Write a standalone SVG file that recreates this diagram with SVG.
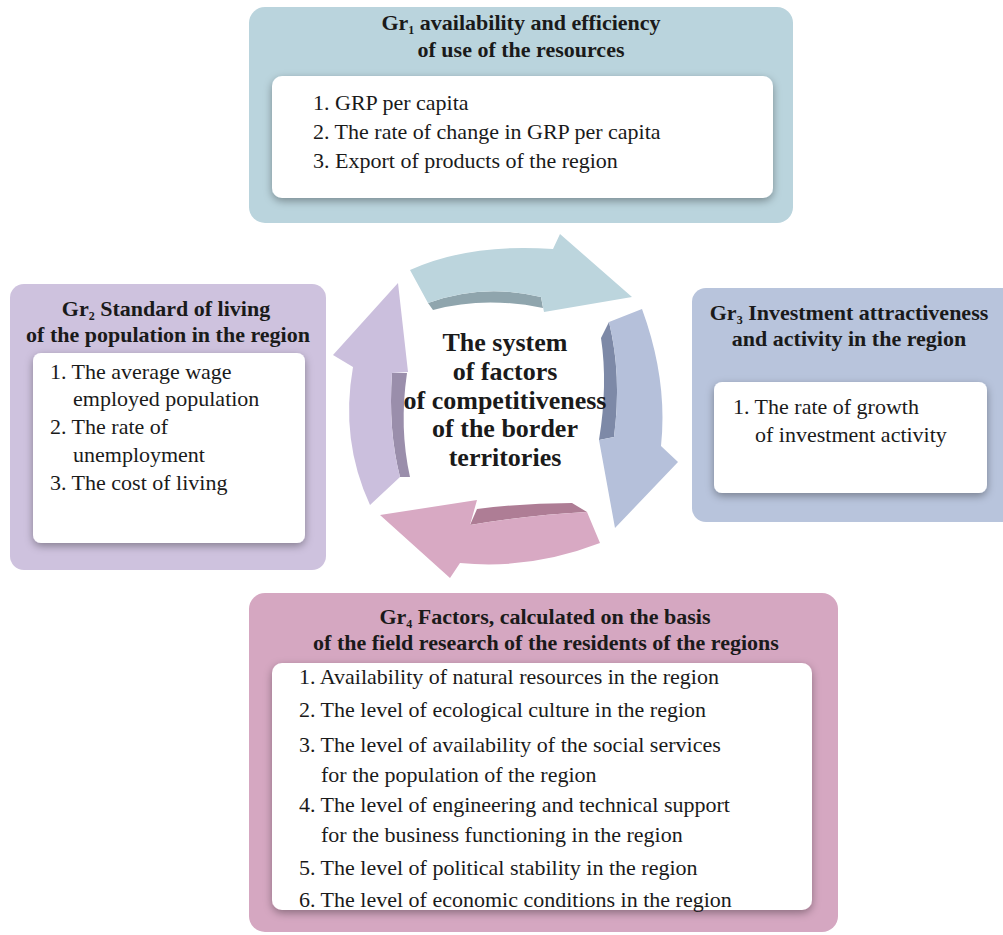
<svg xmlns="http://www.w3.org/2000/svg" width="1003" height="935" viewBox="0 0 1003 935">
<defs>
<filter id="sh" x="-10%" y="-10%" width="120%" height="130%">
<feGaussianBlur in="SourceAlpha" stdDeviation="4"/>
<feOffset dx="0" dy="3" result="b"/>
<feFlood flood-color="#000" flood-opacity="0.35"/>
<feComposite in2="b" operator="in"/>
<feMerge><feMergeNode/><feMergeNode in="SourceGraphic"/></feMerge>
</filter>
<style>
.t{font-family:"Liberation Serif","Times New Roman",serif;font-weight:bold;font-size:22px;fill:#1a1a1a;text-anchor:middle}
.i{font-family:"Liberation Serif","Times New Roman",serif;font-size:22px;fill:#1a1a1a}
.c{font-family:"Liberation Serif","Times New Roman",serif;font-weight:bold;font-size:26px;fill:#1a1a1a;text-anchor:middle}
.w{fill:#fff;filter:url(#sh)}
.s{font-size:12px}
</style>
</defs>
<rect width="1003" height="935" fill="#fff"/>

<g id="gr1">
<rect x="249" y="7" width="544" height="216" rx="16" fill="#bad4dd"/>
<rect class="w" x="272" y="76" width="501" height="122" rx="10"/>
<text class="t" x="521" y="30">Gr<tspan class="s" dy="4">1</tspan><tspan dy="-4"> availability and efficiency</tspan></text>
<text class="t" x="521" y="57">of use of the resources</text>
<text class="i" x="313" y="110">1. GRP per capita</text>
<text class="i" x="313" y="139">2. The rate of change in GRP per capita</text>
<text class="i" x="313" y="168">3. Export of products of the region</text>
</g>

<g id="gr2">
<rect x="10" y="284" width="316" height="286" rx="14" fill="#cec2de"/>
<rect class="w" x="33" y="353" width="272" height="190" rx="8"/>
<text class="t" x="166" y="316">Gr<tspan class="s" dy="4">2</tspan><tspan dy="-4"> Standard of living</tspan></text>
<text class="t" x="168" y="342">of the population in the region</text>
<text class="i" x="50" y="379">1. The average wage</text>
<text class="i" x="73" y="406">employed population</text>
<text class="i" x="50" y="434">2. The rate of</text>
<text class="i" x="73" y="462">unemployment</text>
<text class="i" x="50" y="490">3. The cost of living</text>
</g>

<g id="gr3">
<rect x="692" y="288" width="330" height="234" rx="14" fill="#b8c4dc"/>
<rect class="w" x="714" y="382" width="273" height="111" rx="8"/>
<text class="t" x="849" y="320">Gr<tspan class="s" dy="4">3</tspan><tspan dy="-4"> Investment attractiveness</tspan></text>
<text class="t" x="849" y="346">and activity in the region</text>
<text class="i" x="733" y="414">1. The rate of growth</text>
<text class="i" x="755" y="442">of investment activity</text>
</g>

<g id="gr4">
<rect x="249" y="593" width="589" height="339" rx="16" fill="#d5a7c1"/>
<rect class="w" x="272" y="663" width="540" height="247" rx="10"/>
<text class="t" x="545" y="624">Gr<tspan class="s" dy="4">4</tspan><tspan dy="-4"> Factors, calculated on the basis</tspan></text>
<text class="t" x="546" y="650">of the field research of the residents of the regions</text>
<text class="i" x="299" y="684">1. Availability of natural resources in the region</text>
<text class="i" x="299" y="717">2. The level of ecological culture in the region</text>
<text class="i" x="299" y="752">3. The level of availability of the social services</text>
<text class="i" x="321" y="782">for the population of the region</text>
<text class="i" x="299" y="812">4. The level of engineering and technical support</text>
<text class="i" x="321" y="842">for the business functioning in the region</text>
<text class="i" x="299" y="875">5. The level of political stability in the region</text>
<text class="i" x="299" y="907">6. The level of economic conditions in the region</text>
</g>

<g id="connectors">
<g id="arrow-top">
<path d="M428,303 Q483,283 541,297 L543,308 Q484,296 433,310 Z" fill="#8fa5ad"/>
<path d="M410,270 Q470,243 553,249 L560,234 L632,297 L544,312 L541,297 Q483,283 428,303 Z" fill="#bcd5dd"/>
</g>
<g id="arrow-right">
<path d="M609,322 Q622,375 614,437 L599,440 Q608,385 601,338 Z" fill="#7d89a7"/>
<path d="M609,322 L642,309 Q668,380 661,446 L678,462 L615,528 L599,440 L614,437 Q622,375 609,322 Z" fill="#b5c0da"/>
</g>
<g id="arrow-bottom">
<path d="M470,525 Q530,515 587,512 L572,503 Q522,503 477,509 Z" fill="#ae7d95"/>
<path d="M380,515 L477,500 L470,525 Q530,515 587,512 L600,543 Q530,570 460,563 L450,578 Z" fill="#d8a9c3"/>
</g>
<g id="arrow-left">
<path d="M392,373 Q388,430 400,477 L410,477 Q399,428 407,373 Z" fill="#9a8eab"/>
<path d="M398,283 L408,372 L392,373 Q388,430 400,477 L370,505 Q340,440 353,367 L333,355 Z" fill="#cbbfdd"/>
</g>
</g>

<g id="center">
<text class="c" x="505" y="351">The system</text>
<text class="c" x="505" y="380">of factors</text>
<text class="c" x="505" y="409">of competitiveness</text>
<text class="c" x="505" y="437">of the border</text>
<text class="c" x="505" y="466">territories</text>
</g>
</svg>
